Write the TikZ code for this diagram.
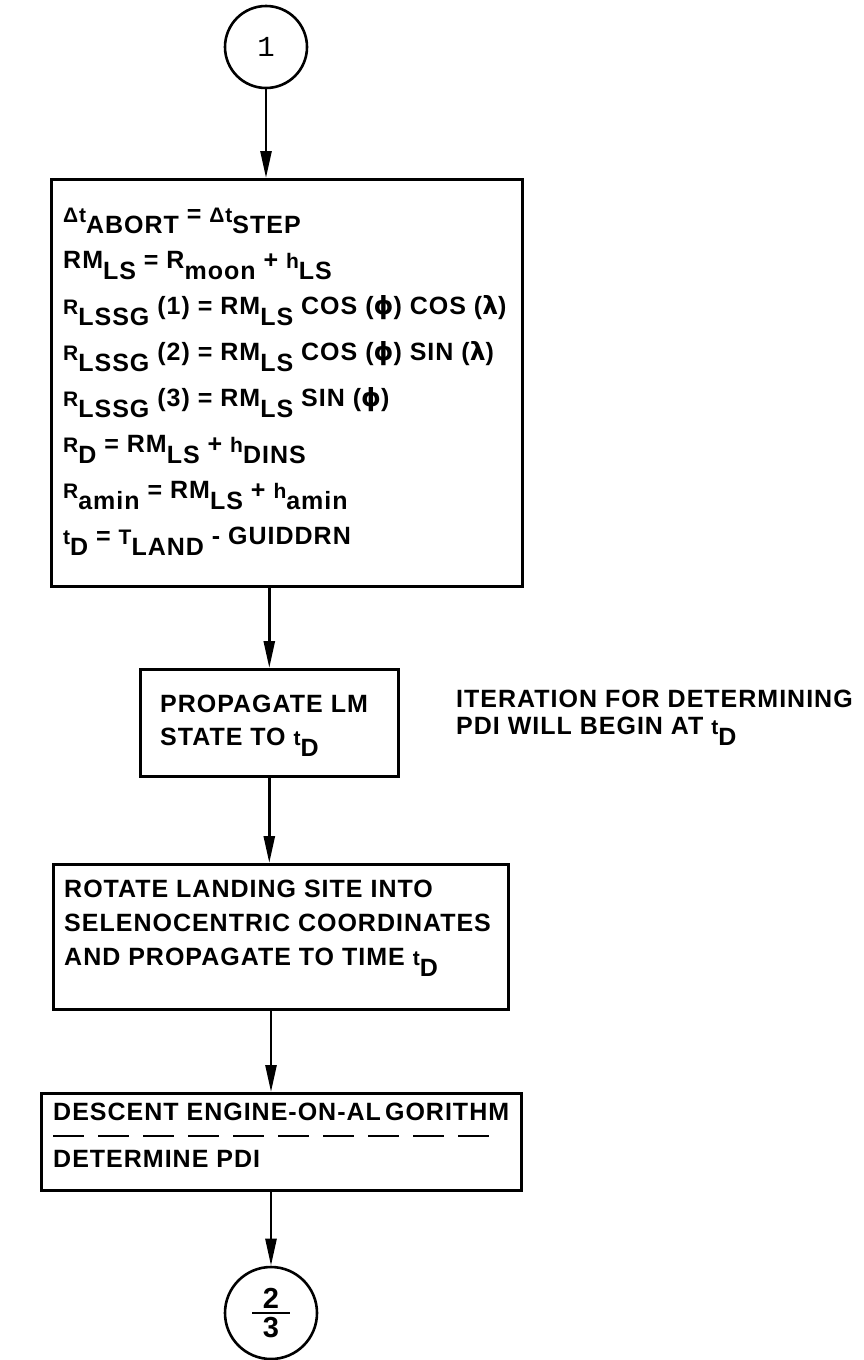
\documentclass[tikz,border=0pt]{standalone}
\usepackage{fontspec}
\setmainfont[LetterSpace=4,UprightFont=* Bold]{Liberation Sans}
\newfontfamily\grk{DejaVu Sans}
\newfontfamily\monof{Liberation Mono}
\usetikzlibrary{arrows.meta}
\newcommand\lo[1]{\raisebox{-11pt}{#1}}
\newcommand\sm[1]{{\fontsize{21}{21}\selectfont #1}}
\newcommand\ph{{\grk\bfseries ϕ}}
\newcommand\lm{{\grk\bfseries λ}}
\begin{document}
\begin{tikzpicture}[x=1pt,y=-1pt,
  box/.style={draw, line width=2.6pt, anchor=north west, inner sep=0pt},
  arr/.style={line width=2.6pt, -{Triangle[length=27pt,width=11pt]}},
  txt/.style={anchor=base west, inner sep=0pt, font=\fontsize{25}{25}\selectfont},
  conn/.style={draw, circle, line width=2.6pt, inner sep=0pt}]
\useasboundingbox (0,0) rectangle (864,1360);

% connectors (circles)
\node[conn, minimum size=82pt] (c1) at (266,47) {\monof\fontsize{29}{29}\selectfont 1};
\node[conn, minimum size=92pt] (c2) at (271,1313) {\fontsize{29}{29}\selectfont\vbox{\hbox to 38pt{\hss 2\hss}\kern3pt\hrule height 2.2pt\kern3pt\hbox to 38pt{\hss 3\hss}}};

% boxes
\node[box, minimum width=471pt, minimum height=407pt] (b1) at (50,178) {};
\node[box, minimum width=258pt, minimum height=107pt] (b2) at (139,668) {};
\node[box, minimum width=455pt, minimum height=145pt] (b3) at (52,863) {};
\node[box, minimum width=480pt, minimum height=97pt] (b4) at (40,1092) {};

% big box text
\node[txt] (l1) at (63,222) {\sm{Δt}\lo{ABORT} = \sm{Δt}\lo{STEP}};
\node[txt] (l2) at (63,268) {RM\lo{LS} = R\lo{moon} + \sm{h}\lo{LS}};
\node[txt] (l3) at (63,314) {\sm{R}\lo{LSSG} (1) = RM\lo{LS} COS (\ph) COS (\lm)};
\node[txt] (l4) at (63,360) {\sm{R}\lo{LSSG} (2) = RM\lo{LS} COS (\ph) SIN (\lm)};
\node[txt] (l5) at (63,406) {\sm{R}\lo{LSSG} (3) = RM\lo{LS} SIN (\ph)};
\node[txt] (l6) at (63,452) {\sm{R}\lo{D} = RM\lo{LS} + \sm{h}\lo{DINS}};
\node[txt] (l7) at (63,498) {\sm{R}\lo{amin} = RM\lo{LS} + \sm{h}\lo{amin}};
\node[txt] (l8) at (63,544) {\sm{t}\lo{D} = \sm{T}\lo{LAND} - GUIDDRN};

% box 2 text
\node[txt] (p1) at (160,712) {PROPAGATE LM};
\node[txt] (p2) at (160,745) {STATE TO \sm{t}\lo{D}};

% note
\node[txt] (n1) at (456,707) {ITERATION FOR DETERMINING};
\node[txt] (n2) at (456,734) {PDI WILL BEGIN AT \sm{t}\lo{D}};

% box 3 text
\node[txt] (r1) at (64,897) {ROTATE LANDING SITE INTO};
\node[txt] (r2) at (64,931) {SELENOCENTRIC COORDINATES};
\node[txt] (r3) at (64,965) {AND PROPAGATE TO TIME \sm{t}\lo{D}};

% box 4 text
\node[txt] (d1) at (53,1120) {DESCENT ENGINE-ON-AL\,GORITHM};
\node[txt] (d2) at (53,1167) {DETERMINE PDI};
\draw[line width=2.2pt, dash pattern=on 31pt off 14pt] (53,1136) -- (489,1136);

% arrows
\draw[arr] (c1.south) -- (c1.south |- b1.north);
\draw[arr] (b2.north |- b1.south) -- (b2.north);
\draw[arr] (b2.south) -- (b2.south |- b3.north);
\draw[arr] (c2.north |- b3.south) -- (c2.north |- b4.north);
\draw[arr] (c2.north |- b4.south) -- (c2.north);
\end{tikzpicture}
\end{document}
